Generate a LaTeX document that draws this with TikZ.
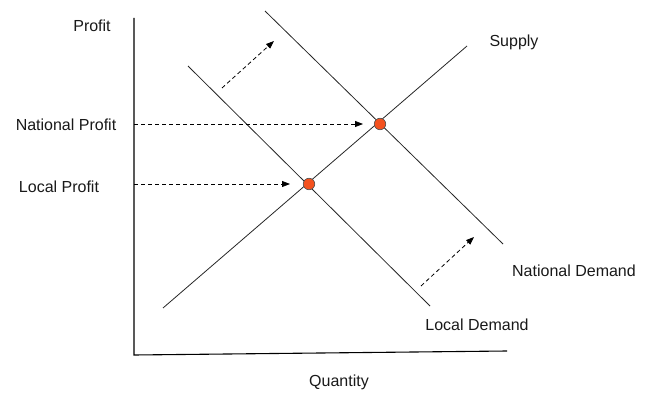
\documentclass[tikz,border=0pt]{standalone}
\usepackage{fontspec}
\setmainfont{Liberation Sans}
\usetikzlibrary{arrows.meta}
\definecolor{dotred}{HTML}{F4511E}
\begin{document}
\begin{tikzpicture}[x=1pt,y=-1pt,
  lbl/.style={font=\fontsize{16}{18}\selectfont, text=black!90, inner sep=0pt},
  curve/.style={line width=0.8pt, black!85},
  axis/.style={line width=1.1pt, black},
  dasharrow/.style={line width=0.8pt, dash pattern=on 4pt off 3pt, -{Triangle[length=8pt,width=6pt]}},
  eqdot/.style={circle, fill=dotred, draw=black!70, line width=0.6pt, minimum size=11.5pt, inner sep=0pt}]
\useasboundingbox (0,0) rectangle (650,406);
% axes
\coordinate (top) at (134,18);
\coordinate (origin) at (134,355);
\coordinate (right) at (507,351);
\draw[axis] (top) -- (origin) -- (right);
% lines
\coordinate (s1) at (163,308);
\coordinate (s2) at (467,46);
\coordinate (ld1) at (188,66);
\coordinate (ld2) at (430,306);
\coordinate (nd1) at (265,11);
\coordinate (nd2) at (503,244);
\draw[curve] (s1) -- (s2);
\draw[curve] (ld1) -- (ld2);
\draw[curve] (nd1) -- (nd2);
% equilibrium dots
\node[eqdot] (lp) at (309,184) {};
\node[eqdot] (np) at (380,124) {};
% dashed arrows
\coordinate (na) at (134,124);
\coordinate (nb) at (363,124);
\coordinate (la) at (134,184);
\coordinate (lb) at (290,184);
\draw[dasharrow] (na) -- (nb);
\draw[dasharrow] (la) -- (lb);
\coordinate (u1) at (222,88);
\coordinate (u2) at (274,41);
\coordinate (v1) at (421,286);
\coordinate (v2) at (474,237);
\draw[dasharrow] (u1) -- (u2);
\draw[dasharrow] (v1) -- (v2);
% labels
\node[lbl] (tprofit) at (92,26) {Profit};
\node[lbl] (tnat) at (66,125) {National Profit};
\node[lbl] (tloc) at (59,187) {Local Profit};
\node[lbl] (tsup) at (514,42) {Supply};
\node[lbl] (tnd) at (574,271) {National Demand};
\node[lbl] (tld) at (477,325) {Local Demand};
\node[lbl] (tq) at (339,382) {Quantity};
\end{tikzpicture}
\end{document}
